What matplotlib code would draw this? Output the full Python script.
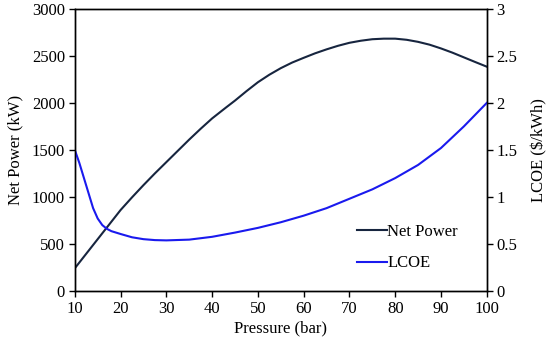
import matplotlib.pyplot as plt

# Data
pressure_np = [10, 12.5, 15, 17.5, 20, 22.5, 25, 27.5, 30, 32.5, 35, 37.5, 40, 43, 45, 47.5, 50,
               52.5, 55, 57.5, 60, 62.5, 65, 67.5, 70, 72.5, 75, 77.5, 80, 82.5, 85, 87.5, 90,
               92.5, 95, 97.5, 100]
net_power = [240, 395, 550, 705, 860, 995, 1125, 1250, 1370, 1490, 1610, 1725, 1835, 1950, 2025,
             2125, 2220, 2300, 2370, 2430, 2480, 2528, 2570, 2608, 2640, 2662, 2678, 2684, 2684,
             2672, 2650, 2620, 2580, 2535, 2485, 2435, 2386]

pressure_lc = [10, 11, 12, 13, 14, 15, 16, 17, 18, 20, 22.5, 25, 27.5, 30, 35, 40, 45, 50, 55,
               60, 65, 70, 75, 80, 85, 90, 95, 100]
lcoe = [1.5, 1.36, 1.2, 1.04, 0.88, 0.77, 0.7, 0.66, 0.635, 0.605, 0.57, 0.55, 0.54, 0.537,
        0.545, 0.575, 0.62, 0.67, 0.73, 0.8, 0.88, 0.98, 1.08, 1.2, 1.34, 1.52, 1.75, 2.0]

plt.rcParams['font.family'] = ['Liberation Serif', 'DejaVu Serif']
plt.rcParams['font.size'] = 12

fig = plt.figure(figsize=(5.5, 3.45), dpi=100)
ax = fig.add_axes([0.136, 0.157, 0.749, 0.817])
ax2 = ax.twinx()

l1, = ax.plot(pressure_np, net_power, color='#17253F', lw=1.5, label='Net Power')
l2, = ax2.plot(pressure_lc, lcoe, color='#1A1AEE', lw=1.5, label='LCOE')

ax.set_xlim(10, 100)
ax.set_ylim(0, 3000)
ax2.set_ylim(0, 3)
ax.set_xticks(range(10, 101, 10))
ax.set_yticks(range(0, 3001, 500))
ax2.set_yticks([0, 0.5, 1, 1.5, 2, 2.5, 3])
ax2.set_yticklabels(['0', '0.5', '1', '1.5', '2', '2.5', '3'])

for a in (ax, ax2):
    a.tick_params(direction='out', length=4, width=1, color='black', pad=3)
    for s in a.spines.values():
        s.set_linewidth(1)
        s.set_color('black')

ax.set_xlabel('Pressure (bar)', labelpad=3)
ax.set_ylabel('Net Power (kW)', labelpad=6)
ax2.set_ylabel('LCOE ($/kWh)', labelpad=10)

ax.legend([l1, l2], ['Net Power', 'LCOE'], loc='center left', bbox_to_anchor=(0.684, 0.154),
          frameon=False, borderpad=0, borderaxespad=0, handlelength=1.8, handletextpad=0.05,
          labelspacing=0.95)

fig.savefig('out.png', dpi=100)
